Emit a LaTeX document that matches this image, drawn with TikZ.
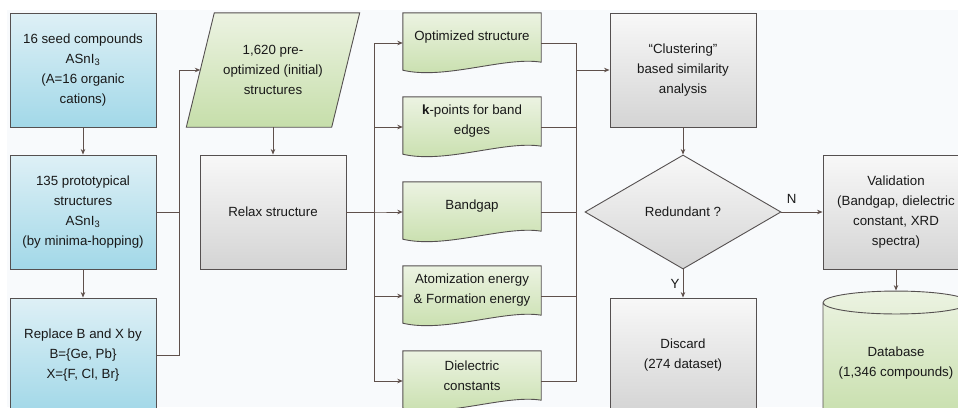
\documentclass[tikz,border=0pt]{standalone}
\usepackage{fontspec}
\setmainfont{Liberation Sans}
\usetikzlibrary{shapes.geometric,arrows.meta,calc}

\definecolor{bluetop}{RGB}{222,240,246}
\definecolor{bluebot}{RGB}{162,216,232}
\definecolor{greentop}{RGB}{236,243,226}
\definecolor{greenbot}{RGB}{198,222,170}
\definecolor{graytop}{RGB}{248,248,248}
\definecolor{graybot}{RGB}{212,212,212}
\definecolor{edgec}{RGB}{85,80,80}
\definecolor{wirec}{RGB}{95,80,75}
\definecolor{txtc}{RGB}{25,25,25}
\definecolor{bgc}{RGB}{248,250,252}

\pgfdeclarelayer{background}
\pgfsetlayers{background,main}

\begin{document}
\begin{tikzpicture}[x=1pt,y=-1pt,
  txt/.style={font=\fontsize{13.3}{20}\selectfont, text=txtc, align=center},
  box/.style={txt, draw=edgec, line width=0.9pt, minimum width=146pt,
    minimum height=114pt, inner sep=0pt},
  bluebox/.style={box, top color=bluetop, bottom color=bluebot},
  graybox/.style={box, top color=graytop, bottom color=graybot},
  docbox/.style={txt, minimum width=138pt, minimum height=49pt, inner sep=0pt},
  greenshape/.style={draw=edgec, line width=0.9pt, top color=greentop, bottom color=greenbot},
  wire/.style={draw=wirec, line width=0.9pt},
  arr/.style={wire, -{Stealth[length=5.5pt,width=4.5pt]}},
  lbl/.style={txt, inner sep=1pt}
]

\useasboundingbox (0,0) rectangle (958,407);
\clip (0,0) rectangle (958,407);

% ---- input side: seed compounds and substitutions ----
\node[bluebox] (seed) at (83,70) {16 seed compounds\\ASnI\textsubscript{3}\\(A=16 organic\\cations)};
\node[bluebox] (proto) at (83,212) {135 prototypical\\structures\\ASnI\textsubscript{3}\\(by minima-hopping)};
\node[bluebox] (repl) at (83,355) {Replace B and X by\\B=\{Ge, Pb\}\\X=\{F, Cl, Br\}};

\node[txt, minimum width=145pt, minimum height=114pt, inner sep=0pt]
  (pre) at (273,70) {1,620 pre-\\optimized (initial)\\structures};
\node[graybox] (relax) at (273,212) {Relax structure};

% ---- computed properties (document shapes) ----
\node[docbox] (opt) at (472,37.5) {Optimized structure};
\node[docbox] (kpt) at (472,121.5) {\textbf{k}-points for band\\edges};
\node[docbox] (gap) at (472,206.5) {Bandgap};
\node[docbox] (ener) at (472,290.5) {Atomization energy\\\& Formation energy};
\node[docbox] (diel) at (472,375.5) {Dielectric\\constants};

% ---- screening and output ----
\node[graybox] (clust) at (683,70) {“Clustering”\\based similarity\\analysis};
\node[txt, diamond, draw=edgec, line width=0.9pt, top color=graytop, bottom color=graybot,
  minimum width=196pt, minimum height=114pt, inner sep=0pt] (redund) at (683,212) {Redundant ?};
\node[graybox] (disc) at (683,355) {Discard\\(274 dataset)};
\node[graybox] (valid) at (896,212) {Validation\\(Bandgap, dielectric\\constant, XRD\\spectra)};
\node[txt, cylinder, shape border rotate=90, aspect=0.2, draw=edgec, line width=0.9pt,
  top color=greentop, bottom color=greenbot,
  minimum width=146pt, minimum height=132pt, inner sep=0pt] (db) at (896,363) {Database\\(1,346 compounds)};

\begin{pgfonlayer}{background}
  \clip (0,0) rectangle (958,407);
  \fill[bgc] (7,10) rectangle (958,407);
  % slanted input box
  \draw[greenshape] ([xshift=-14pt]pre.south west) -- ([xshift=14pt]pre.north west)
    -- ([xshift=14pt]pre.north east) -- ([xshift=-14pt]pre.south east) -- cycle;
  % wavy-bottom documents
  \foreach \d in {opt,kpt,gap,ener,diel}
    \draw[greenshape] (\d.north west) -- (\d.north east) -- (\d.south east)
      .. controls +(-36,-6) and +(42,10) .. ([yshift=-8pt]\d.south west) -- cycle;
\end{pgfonlayer}

% ---- connectors ----
\draw[arr] (seed) -- (proto);
\draw[arr] (proto) -- (repl);
\draw[wire] (proto.east) -- ++(23,0);
\draw[arr] (repl.east) -- ++(23,0) |- (pre.west);
\draw[arr] (pre) -- (relax);

\foreach \d in {opt,kpt,gap,ener,diel}
  \draw[arr] (relax.east) -- ++(28,0) |- ([yshift=-5.5pt]\d.west);

\coordinate (join) at (576,70);
\foreach \d in {opt,kpt,gap,ener,diel}
  \draw[wire] ([yshift=-5.5pt]\d.east) -| (join);
\draw[arr] (join) -- (clust);

\draw[arr] (clust) -- (redund);
\draw[arr] (redund.east) -- node[lbl, pos=0.25, above=7pt] {N} (valid.west);
\draw[arr] (redund.south) -- node[lbl, left=2pt] {Y} (disc.north);
\draw[arr] (valid) -- (db);

\end{tikzpicture}
\end{document}
